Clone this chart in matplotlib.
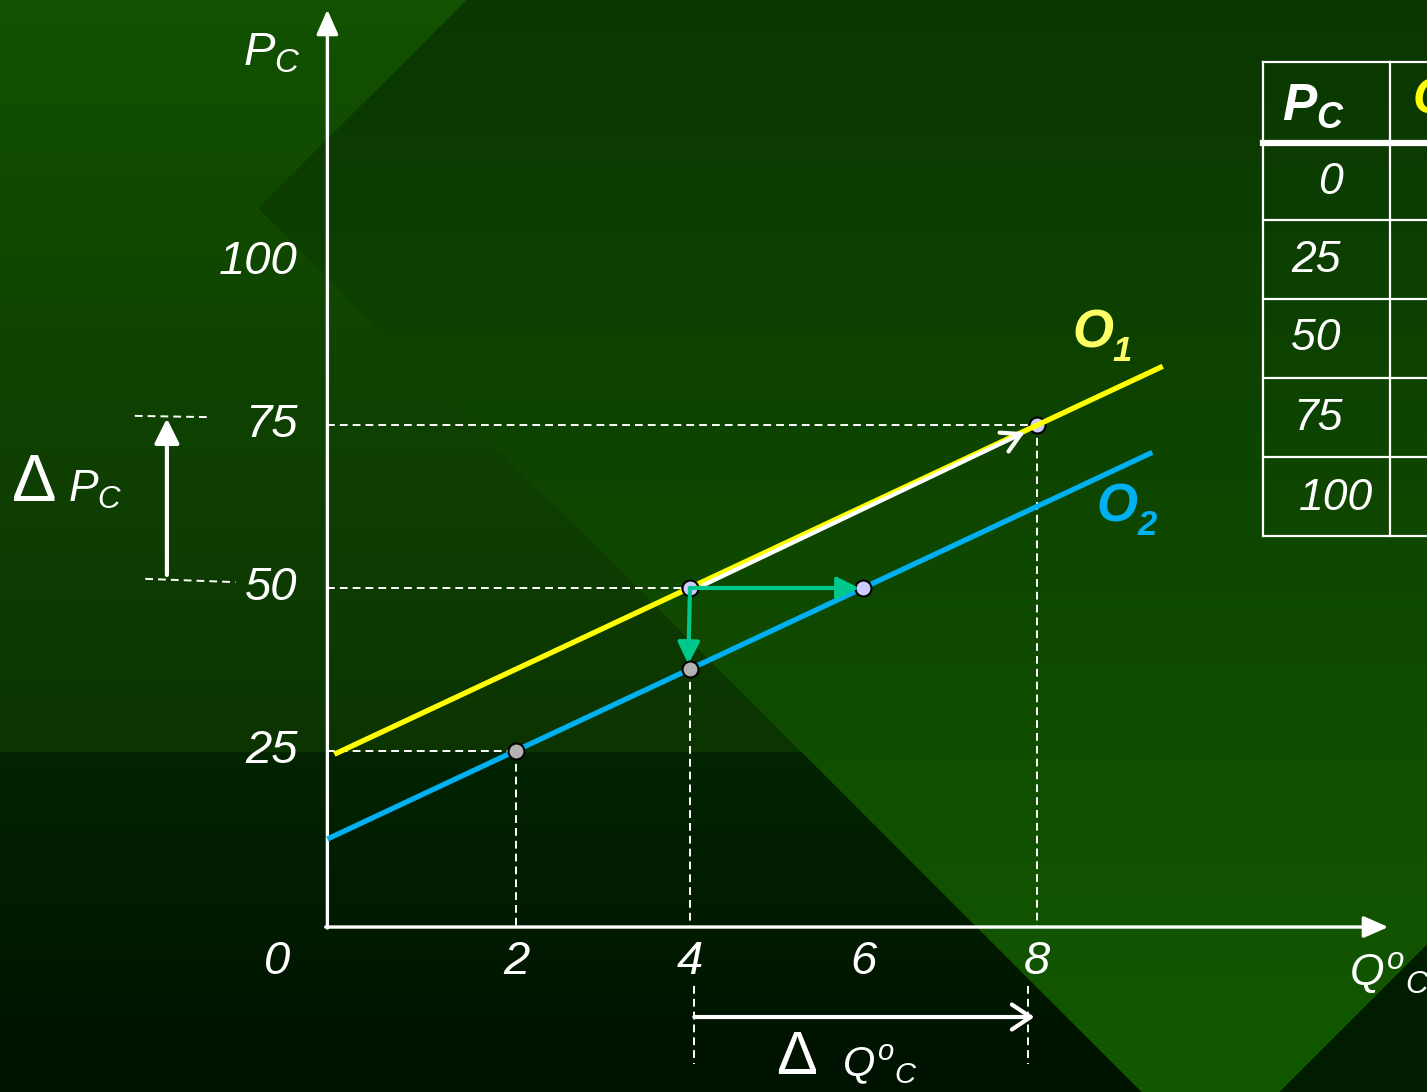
import numpy as np
import matplotlib
matplotlib.use('Agg')
import matplotlib.pyplot as plt
from matplotlib.patches import FancyArrowPatch

plt.rcParams['font.family'] = ['Liberation Sans', 'DejaVu Sans']
plt.rcParams['mathtext.fontset'] = 'custom'
plt.rcParams['mathtext.rm'] = 'Liberation Sans'
plt.rcParams['mathtext.it'] = 'Liberation Sans:italic'
plt.rcParams['mathtext.bf'] = 'Liberation Sans:bold'
plt.rcParams['mathtext.bfit'] = 'Liberation Sans:italic:bold'

# supply lines O1 and O2 (quantity on x, price on y)
o1_q = [-0.1, 9.45]
o1_p = [24.5, 84.0]
o2_q = [-0.18, 9.33]
o2_p = [11.5, 70.8]

# points on O1 and O2
lav_q = [4, 6, 8]
lav_p = [50, 50, 75]
gray_q = [2, 4]
gray_p = [25, 37.5]

xticks = [2, 4, 6, 8]
yticks = [25, 50, 75, 100]

# table, first column
table_p = ['0', '25', '50', '75', '100']

W, H = 1427, 1092
fig = plt.figure(figsize=(W / 100, H / 100), dpi=100)

# ---- background (slide style) ----
bg = fig.add_axes([0, 0, 1, 1])
bg.set_xlim(0, W)
bg.set_ylim(H, 0)
bg.axis('off')
yy, xx = np.mgrid[0:H, 0:W].astype(float)


def mix(c0, c1, t):
    c0 = np.array(c0) / 255.0
    c1 = np.array(c1) / 255.0
    return c0 + (c1 - c0) * t[..., None]


t_all = yy / H
left_top = mix((18, 82, 0), (12, 52, 2), np.clip(yy / 752, 0, 1))
left_bot = mix((2, 36, 0), (0, 18, 0), np.clip((yy - 752) / 340, 0, 1))
left = np.where((yy < 752)[..., None], left_top, left_bot)
right = mix((10, 55, 0), (19, 88, 0), t_all)
img = left.copy()
in_right = (xx - yy > 49) & (xx + yy > 465)
img[in_right] = right[in_right]
corner = xx + yy > 2370
img[corner] = np.array((0, 29, 0)) / 255.0
bg.imshow(img, extent=(0, W, H, 0), aspect='auto', zorder=0)

# ---- table (partly off the slide) ----
tl = dict(color='white', lw=1.6, zorder=2)
bg.plot([1263, 1263], [62, 536], **tl)
bg.plot([1390, 1390], [62, 536], **tl)
bg.plot([1263, W], [62, 62], **tl)
for yr in [220, 299, 378, 457, 536]:
    bg.plot([1263, W], [yr, yr], **tl)
bg.plot([1263, W], [143, 143], color='white', lw=4.5, zorder=2)
bg.text(1314, 106, r'$\mathbfit{P}_{\mathbfit{C}}$', color='white', fontsize=37,
        ha='center', va='center', zorder=3)
bg.text(1413, 100, 'Q', color='#ffff00', fontsize=36, fontweight='bold',
        style='italic', ha='left', va='center', zorder=3)
row_y = [182, 260, 339, 419, 498]
row_x = [1330, 1316, 1316, 1318, 1336]
for lab, xr, yr in zip(table_p, row_x, row_y):
    bg.text(xr, yr, lab, color='white', fontsize=32, style='italic',
            ha='center', va='center', zorder=3)

# ---- main chart ----
ax = fig.add_axes([0, 0, 1, 1])
ax.patch.set_visible(False)
ax.set_xlim(-3.954, 12.496)
ax.set_ylim(-27.3, 140.18)
ax.axis('off')

ax0_q, ax0_p = -0.18, -2.0

# axes with arrow heads
ax.annotate('', xy=(12.05, ax0_p), xytext=(ax0_q - 0.02, ax0_p),
            arrowprops=dict(arrowstyle='-|>,head_length=0.5,head_width=0.22',
                            color='white', lw=2.4, mutation_scale=30,
                            shrinkA=0, shrinkB=0), zorder=3)
ax.annotate('', xy=(ax0_q, 138.7), xytext=(ax0_q, ax0_p - 0.15),
            arrowprops=dict(arrowstyle='-|>,head_length=0.5,head_width=0.22',
                            color='white', lw=2.4, mutation_scale=30,
                            shrinkA=0, shrinkB=0), zorder=3)

# dashed guides
dash = dict(color='white', lw=1.4, ls=(0, (4, 2.6)), zorder=2)
ax.plot([ax0_q, 8], [75, 75], **dash)
ax.plot([8, 8], [75, ax0_p], **dash)
ax.plot([ax0_q, 4], [50, 50], **dash)
ax.plot([4, 4], [37.5, ax0_p], **dash)
ax.plot([ax0_q, 2], [25, 25], **dash)
ax.plot([2, 2], [25, ax0_p], **dash)
# dashed ticks below the axis for the quantity change
ax.plot([4.05, 4.05], [-11, -23], **dash)
ax.plot([7.9, 7.9], [-11, -23], **dash)
# dashed marks for the price change
ax.plot([-2.4, -1.53], [76.4, 76.2], **dash)
ax.plot([-2.28, -1.24], [51.4, 50.9], **dash)

# supply lines
ax.plot(o1_q, o1_p, color='#ffff00', lw=3.8, zorder=4, solid_capstyle='butt')
ax.plot(o2_q, o2_p, color='#00b0f0', lw=3.8, zorder=4, solid_capstyle='butt')

# white shift arrow along O1
ax.add_patch(FancyArrowPatch((4.15, 50.4), (7.86, 73.9),
                             arrowstyle='->,head_length=0.45,head_width=0.25',
                             mutation_scale=30, color='white', lw=3,
                             shrinkA=0, shrinkB=0, zorder=4.5))

# green arrows
grn = '#00c88c'
ax.add_patch(FancyArrowPatch((lav_q[0], lav_p[0]), (lav_q[1] - 0.05, lav_p[1]),
                             arrowstyle='-|>,head_length=0.6,head_width=0.3',
                             mutation_scale=22, color=grn, lw=3,
                             shrinkA=0, shrinkB=0, zorder=6))
ax.add_patch(FancyArrowPatch((lav_q[0], lav_p[0]), (gray_q[1] - 0.02, gray_p[1] + 0.8),
                             arrowstyle='-|>,head_length=0.6,head_width=0.3',
                             mutation_scale=22, color=grn, lw=3,
                             shrinkA=0, shrinkB=0, zorder=6))

# points
ax.plot(lav_q[2], lav_p[2], 'o', ms=11.5, mfc='#ccccff', mec='black',
        mew=1.5, zorder=3.9)
ax.plot(lav_q[:2], lav_p[:2], 'o', ms=11.5, mfc='#ccccff', mec='black',
        mew=1.5, zorder=5.5, ls='none')
ax.plot(gray_q, gray_p, 'o', ms=11.5, mfc='#b2b2b2', mec='black',
        mew=1.5, zorder=7, ls='none')

# price change arrow
ax.annotate('', xy=(-2.03, 76.0), xytext=(-2.03, 52.0),
            arrowprops=dict(arrowstyle='-|>,head_length=0.5,head_width=0.25',
                            color='white', lw=3, mutation_scale=30,
                            shrinkA=0, shrinkB=0), zorder=3)
# quantity change arrow
ax.add_patch(FancyArrowPatch((4.05, -15.8), (7.97, -15.8),
                             arrowstyle='->,head_length=0.45,head_width=0.3',
                             mutation_scale=30, color='white', lw=3,
                             shrinkA=0, shrinkB=0, zorder=3))

# tick labels
for v in yticks:
    ax.text(-0.52, v, str(v), color='white', fontsize=34, style='italic',
            ha='right', va='center', zorder=3)
for v in xticks:
    ax.text(v, -7.4, str(v), color='white', fontsize=34, style='italic',
            ha='center', va='center', zorder=3)
ax.text(-0.76, -7.4, '0', color='white', fontsize=34, style='italic',
        ha='center', va='center', zorder=3)

# axis titles
ax.text(-0.82, 132.0, r'$P_C$', color='white', fontsize=34,
        ha='center', va='center', zorder=3)
ax.text(11.6, -9.0, r'$Q^{o}{}_{C}$', color='white', fontsize=32,
        ha='left', va='center', zorder=3)

# delta labels
ax.text(-3.56, 66.0, 'Δ', color='white', fontsize=48, ha='center',
        va='center', zorder=3)
ax.text(-3.17, 65.0, r'$P_C$', color='white', fontsize=32, ha='left',
        va='center', zorder=3)
ax.text(5.23, -22.1, 'Δ', color='white', fontsize=44, ha='center',
        va='center', zorder=3)
ax.text(5.75, -23.0, r'$Q^{o}{}_{C}$', color='white', fontsize=30, ha='left',
        va='center', zorder=3)

# line labels
ax.text(8.65, 89.1, 'O', color='#ffff66', fontsize=38, fontweight='bold',
        style='italic', ha='center', va='center', zorder=3)
ax.text(8.98, 86.3, '1', color='#ffff66', fontsize=25, fontweight='bold',
        style='italic', ha='center', va='center', zorder=3)
ax.text(8.92, 62.3, 'O', color='#00b0f0', fontsize=38, fontweight='bold',
        style='italic', ha='center', va='center', zorder=3)
ax.text(9.27, 59.6, '2', color='#00b0f0', fontsize=25, fontweight='bold',
        style='italic', ha='center', va='center', zorder=3)

fig.savefig('out.png', dpi=100)
